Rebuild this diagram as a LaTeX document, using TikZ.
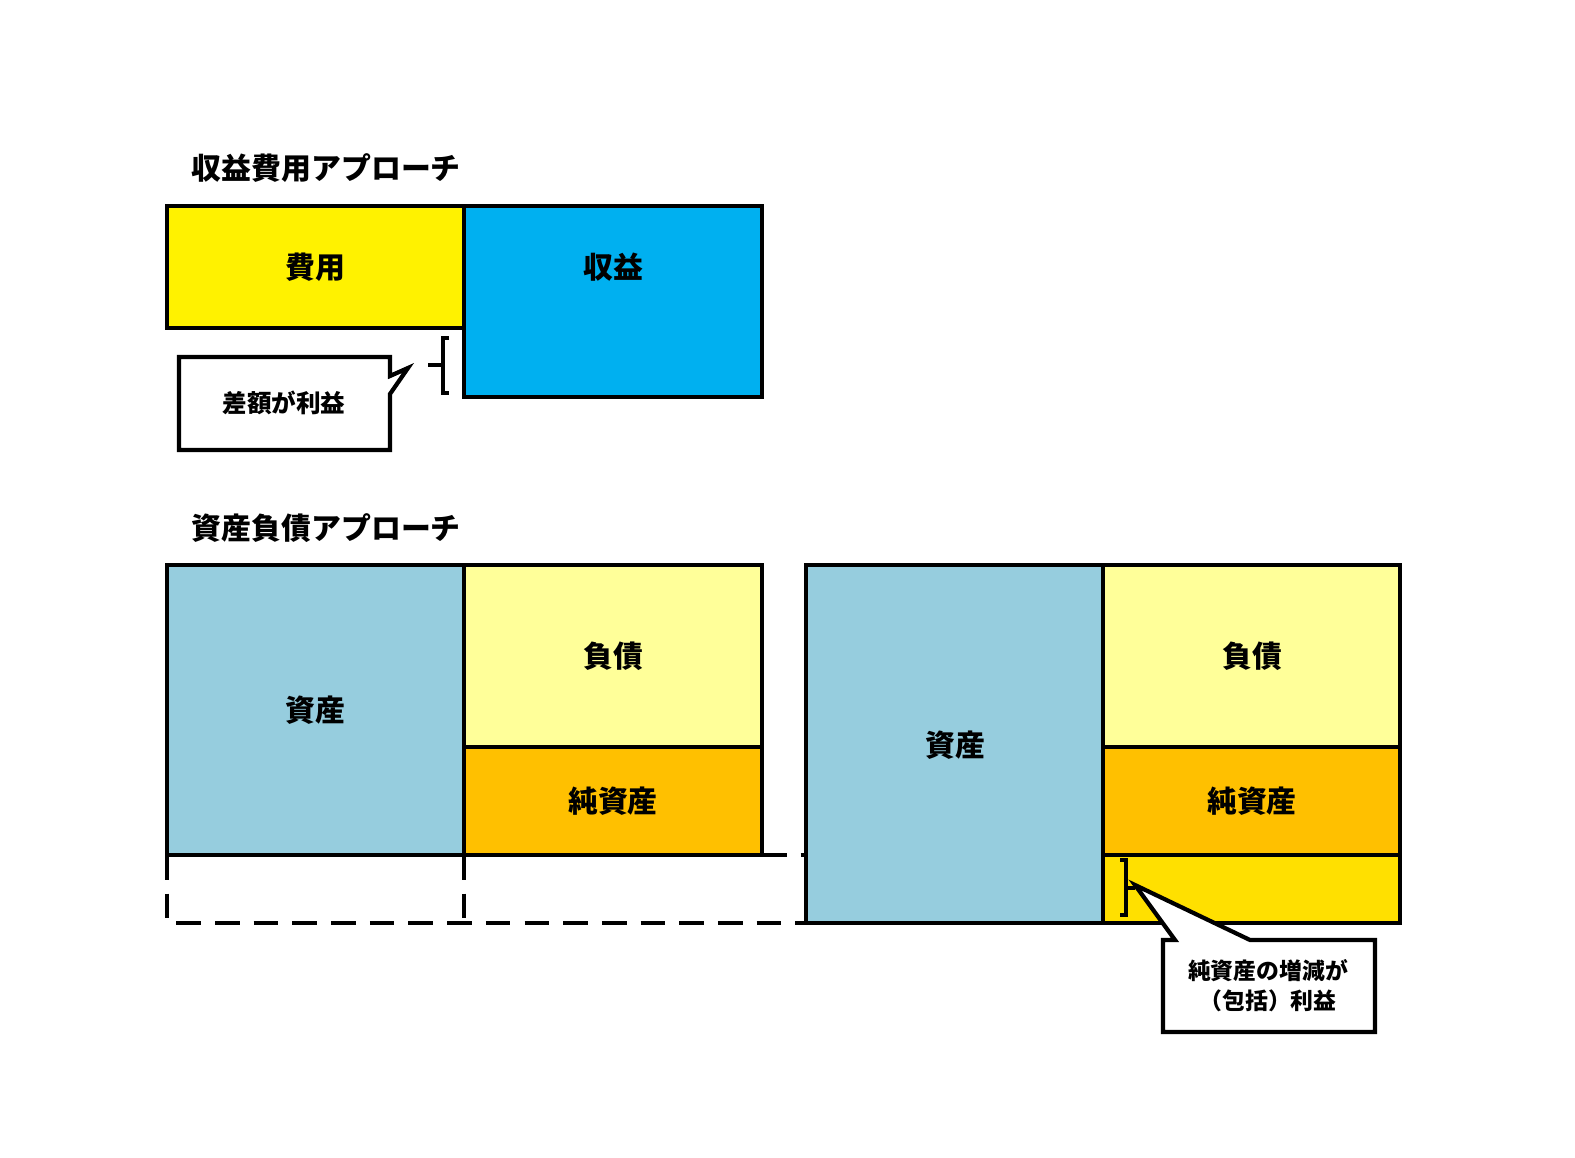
\documentclass[tikz,border=0pt]{standalone}
\usepackage{fontspec}
\newfontfamily\cjk{Noto Sans CJK JP}
\begin{document}
\begin{tikzpicture}[x=0.01cm,y=-0.01cm,line width=1.2pt,
  box/.style={draw=black},
  lbl/.style={font=\cjk\bfseries\fontsize{8.5}{10}\selectfont},
  small/.style={font=\cjk\bfseries\fontsize{6.5}{8.5}\selectfont,align=center},
  dsh/.style={dashed,dash pattern=on 7pt off 4pt}]
\useasboundingbox (0,0) rectangle (1575,1158);
\definecolor{cyanb}{HTML}{00B0F0}
\definecolor{asset}{HTML}{96CDDE}
\definecolor{liab}{HTML}{FFFF99}
\definecolor{net}{HTML}{FFC000}
\definecolor{inc}{HTML}{FFE000}
\node[lbl,anchor=west] (t1) at (178,168) {収益費用アプローチ};
\draw[box,fill=yellow] (167,206) rectangle (464,328);
\node[lbl] (hiyo) at (315,267) {費用};
\draw[box,fill=cyanb] (464,206) rectangle (762,397);
\node[lbl] (shueki) at (613,267) {収益};
\draw (449,338) -- (443,338) -- (443,393) -- (449,393);
\draw (443,365) -- (428,365);
\draw[box,fill=white] (179,357) -- (390,357) -- (390,376) -- (408,368) -- (390,394) -- (390,450) -- (179,450) -- cycle;
\node[small,font=\cjk\bfseries\fontsize{7}{9}\selectfont] (sagaku) at (284,403) {差額が利益};
\node[lbl,anchor=west] (t2) at (178,528) {資産負債アプローチ};
\draw[box,fill=asset] (167,565) rectangle (464,855);
\node[lbl] (a1) at (315,710) {資産};
\draw[box,fill=liab] (464,565) rectangle (762,747);
\node[lbl] (l1) at (613,656) {負債};
\draw[box,fill=net] (464,747) rectangle (762,855);
\node[lbl] (n1) at (613,801) {純資産};
\draw[dsh] (167,855) -- (167,923) -- (806,923);
\draw[dsh] (464,855) -- (464,923);
\draw[dsh] (762,855) -- (806,855);
\draw[box,fill=asset] (806,565) rectangle (1103,923);
\node[lbl] (a2) at (955,745) {資産};
\draw[box,fill=liab] (1103,565) rectangle (1400,747);
\node[lbl] (l2) at (1252,656) {負債};
\draw[box,fill=net] (1103,747) rectangle (1400,855);
\draw[box,fill=inc] (1103,855) rectangle (1400,923);
\draw[dsh] (1103,855) -- (1400,855);
\node[lbl] (n2) at (1252,801) {純資産};
\draw (1120,860) -- (1126,860) -- (1126,915) -- (1120,915);
\draw (1126,888) -- (1135,888);
\draw[box,fill=white] (1163,940) -- (1175,940) -- (1135,885) -- (1250,940) -- (1375,940) -- (1375,1032) -- (1163,1032) -- cycle;
\node[small] (c2) at (1268,986) {純資産の増減が\\（包括）利益};
\end{tikzpicture}
\end{document}
